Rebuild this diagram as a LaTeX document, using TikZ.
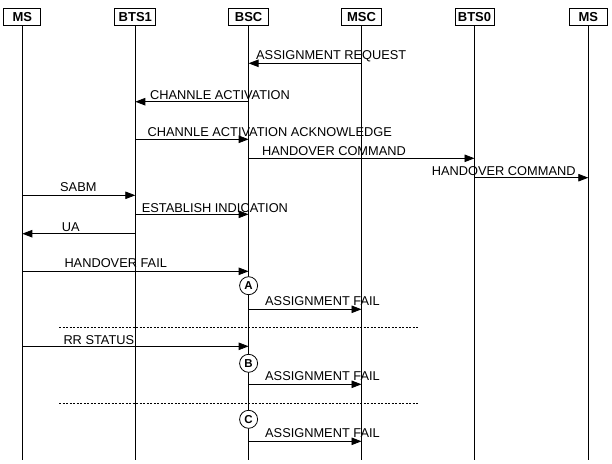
\documentclass[tikz,border=0pt]{standalone}
\usepackage{fontspec}
\setmainfont{Liberation Sans}
\usetikzlibrary{arrows.meta}
\tikzset{
  head/.style={draw, line width=0.8pt, minimum height=17.5pt, inner sep=1pt,
    font=\bfseries\fontsize{13}{14}\selectfont},
  life/.style={line width=0.8pt},
  msgline/.style={line width=0.8pt, -{Triangle[length=10pt,width=7.5pt]}},
  lbl/.style={anchor=base west, inner sep=0pt, font=\fontsize{12.8}{14}\selectfont},
  casemark/.style={draw, circle, fill=white, line width=0.8pt, minimum size=18pt, inner sep=0pt,
    font=\bfseries\fontsize{11.5}{12}\selectfont},
  sepline/.style={line width=0.7pt, dash pattern=on 2pt off 1.5pt}
}
\begin{document}
\begin{tikzpicture}[x=1pt,y=-1pt]
\useasboundingbox (0,0) rectangle (612,463);
% heads
\node[head, minimum width=37pt] (ms1) at (22.3,16.8) {MS};
\node[head, minimum width=41pt] (bts1) at (135.3,16.8) {BTS1};
\node[head, minimum width=40pt] (bsc) at (248.6,16.8) {BSC};
\node[head, minimum width=40pt] (msc) at (361.5,16.8) {MSC};
\node[head, minimum width=39pt] (bts0) at (474.5,16.8) {BTS0};
\node[head, minimum width=38pt] (ms2) at (588.3,16.8) {MS};
% lifelines
\foreach \n in {ms1,bts1,bsc,msc,bts0,ms2}{
  \coordinate (\n-end) at (\n |- 0,460);
  \draw[life] (\n.south) -- (\n-end);
}
% messages
\draw[msgline] (msc |- 0,63.3) -- (bsc |- 0,63.3);
\node[lbl] (l1) at (256,59) {ASSIGNMENT REQUEST};
\draw[msgline] (bsc |- 0,101.7) -- (bts1 |- 0,101.7);
\node[lbl] (l2) at (150,99.5) {CHANNLE ACTIVATION};
\draw[msgline] (bts1 |- 0,139.3) -- (bsc |- 0,139.3);
\node[lbl] (l3) at (147.5,136.5) {CHANNLE ACTIVATION ACKNOWLEDGE};
\draw[msgline] (bsc |- 0,158.3) -- (bts0 |- 0,158.3);
\node[lbl] (l4) at (262,155.5) {HANDOVER COMMAND};
\draw[msgline] (bts0 |- 0,177.7) -- (ms2 |- 0,177.7);
\node[lbl] (l5) at (431.7,175) {HANDOVER COMMAND};
\draw[msgline] (ms1 |- 0,195.3) -- (bts1 |- 0,195.3);
\node[lbl] (l6) at (60,191.5) {SABM};
\draw[msgline] (bts1 |- 0,214.3) -- (bsc |- 0,214.3);
\node[lbl] (l7) at (141.7,212) {ESTABLISH INDICATION};
\draw[msgline] (bts1 |- 0,233.7) -- (ms1 |- 0,233.7);
\node[lbl] (l8) at (61.7,231.5) {UA};
\draw[msgline] (ms1 |- 0,271.3) -- (bsc |- 0,271.3);
\node[lbl] (l9) at (64.3,267) {HANDOVER FAIL};
% case A
\node[casemark] (ca) at (bsc |- 0,285.7) {A};
\draw[msgline] (bsc |- 0,309.3) -- (msc |- 0,309.3);
\node[lbl] (l10) at (265,305) {ASSIGNMENT FAIL};
\coordinate (d1s) at (59,327.3);
\coordinate (d1e) at (418.3,327.3);
\draw[sepline] (d1s) -- (d1e);
% case B
\draw[msgline] (ms1 |- 0,346.3) -- (bsc |- 0,346.3);
\node[lbl] (l11) at (63.3,344.5) {RR STATUS};
\node[casemark] (cb) at (bsc |- 0,363.3) {B};
\draw[msgline] (bsc |- 0,384.3) -- (msc |- 0,384.3);
\node[lbl] (l12) at (265,380.5) {ASSIGNMENT FAIL};
\coordinate (d2s) at (59,403.3);
\coordinate (d2e) at (418.3,403.3);
\draw[sepline] (d2s) -- (d2e);
% case C
\node[casemark] (cc) at (bsc |- 0,419.3) {C};
\draw[msgline] (bsc |- 0,441.3) -- (msc |- 0,441.3);
\node[lbl] (l13) at (265,437.5) {ASSIGNMENT FAIL};
\end{tikzpicture}
\end{document}
